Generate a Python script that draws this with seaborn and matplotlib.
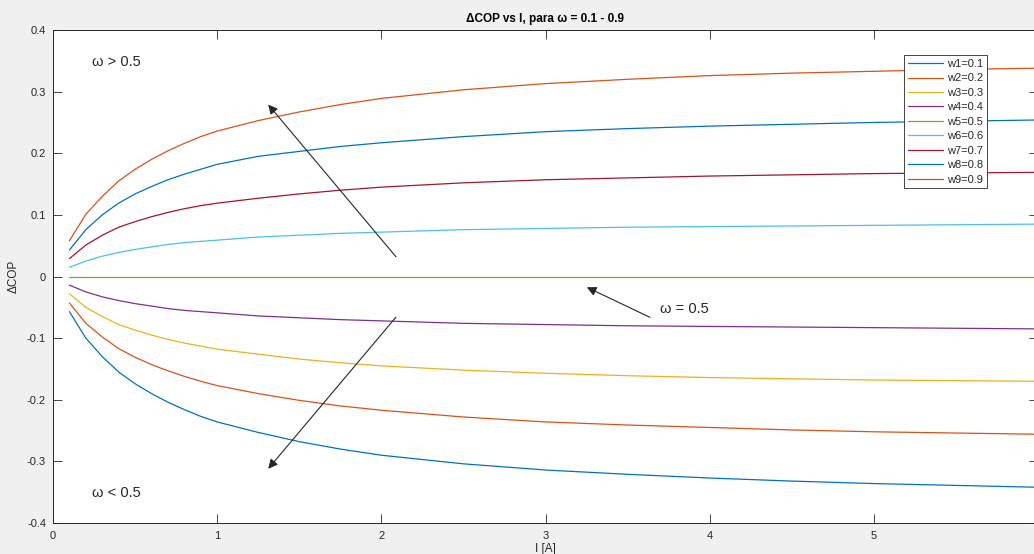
import numpy as np
import pandas as pd
import matplotlib
matplotlib.use("Agg")
import matplotlib.pyplot as plt
import seaborn as sns

# Data
corriente = [0.1, 0.2, 0.3, 0.4, 0.5, 0.6, 0.7, 0.8, 0.9, 1.0, 1.25, 1.5, 1.75,
             2.0, 2.5, 3.0, 3.5, 4.0, 4.5, 5.0, 5.5, 6.0]

w1 = [-0.057, -0.100, -0.130, -0.155, -0.174, -0.190, -0.204, -0.216, -0.227, -0.236, -0.253,
      -0.268, -0.280, -0.290, -0.304, -0.314, -0.321, -0.327, -0.332, -0.336, -0.339, -0.342]
w2 = [-0.043, -0.076, -0.098, -0.117, -0.131, -0.143, -0.153, -0.162, -0.170, -0.177, -0.190,
      -0.201, -0.210, -0.217, -0.228, -0.236, -0.241, -0.245, -0.249, -0.252, -0.254, -0.256]
w3 = [-0.028, -0.050, -0.065, -0.078, -0.087, -0.095, -0.102, -0.108, -0.113, -0.118, -0.126,
      -0.134, -0.140, -0.145, -0.152, -0.157, -0.161, -0.164, -0.166, -0.168, -0.169, -0.170]
w4 = [-0.014, -0.025, -0.033, -0.039, -0.044, -0.048, -0.052, -0.055, -0.057, -0.059, -0.064,
      -0.067, -0.070, -0.072, -0.076, -0.078, -0.080, -0.081, -0.082, -0.083, -0.084, -0.085]
w5 = [0.0] * 22
w6 = [0.015, 0.025, 0.033, 0.039, 0.044, 0.048, 0.052, 0.055, 0.057, 0.059, 0.064,
      0.067, 0.070, 0.072, 0.076, 0.078, 0.080, 0.081, 0.082, 0.083, 0.084, 0.085]
w7 = [0.029, 0.051, 0.067, 0.080, 0.089, 0.097, 0.104, 0.110, 0.115, 0.119, 0.127,
      0.134, 0.140, 0.145, 0.152, 0.157, 0.160, 0.163, 0.165, 0.167, 0.168, 0.169]
w8 = [0.043, 0.076, 0.100, 0.119, 0.134, 0.146, 0.157, 0.166, 0.174, 0.182, 0.195,
      0.203, 0.211, 0.217, 0.227, 0.235, 0.240, 0.244, 0.247, 0.250, 0.252, 0.254]
w9 = [0.058, 0.101, 0.130, 0.155, 0.174, 0.190, 0.204, 0.216, 0.227, 0.236, 0.253,
      0.267, 0.279, 0.289, 0.303, 0.313, 0.320, 0.326, 0.330, 0.333, 0.336, 0.338]

series = [w1, w2, w3, w4, w5, w6, w7, w8, w9]
labels = ["w1=0.1", "w2=0.2", "w3=0.3", "w4=0.4", "w5=0.5",
          "w6=0.6", "w7=0.7", "w8=0.8", "w9=0.9"]

# MATLAB default color order (cycles after 7)
colores = ["#0072BD", "#D95319", "#EDB120", "#7E2F8E", "#77AC30",
           "#4DBEEE", "#A2142F", "#0072BD", "#D95319"]

sns.set_style("ticks")
plt.rcParams["font.family"] = ["Liberation Sans", "DejaVu Sans"]
plt.rcParams["axes.edgecolor"] = "#262626"
plt.rcParams["xtick.color"] = "#262626"
plt.rcParams["ytick.color"] = "#262626"

fig = plt.figure(figsize=(10.34, 5.54), dpi=100, facecolor="#f0f0f0")
ax = fig.add_axes([53 / 1034, 31 / 554, 985 / 1034, 493 / 554])
ax.set_facecolor("white")

for vals, lab, col in zip(series, labels, colores):
    sns.lineplot(x=corriente, y=vals, color=col, label=lab, linewidth=0.9, ax=ax)

ax.set_xlim(0, 6)
ax.set_ylim(-0.4, 0.4)
ax.set_xticks(range(0, 6))
ax.set_yticks(np.arange(-0.4, 0.41, 0.1))
ax.set_yticklabels(["-0.4", "-0.3", "-0.2", "-0.1", "0", "0.1", "0.2", "0.3", "0.4"])
ax.tick_params(direction="in", length=6.5, width=0.6, labelsize=8,
               top=True, right=True, labelcolor="#262626")
ax.tick_params(axis="x", pad=6)
ax.tick_params(axis="y", pad=5)
for sp in ax.spines.values():
    sp.set_linewidth(0.7)

ax.set_title("\u0394COP vs I, para \u03c9 = 0.1 - 0.9", fontsize=8.5,
             fontweight="bold", color="black", pad=6)
ax.set_xlabel("I [A]", fontsize=8.5, color="#262626", labelpad=1.5)
ax.set_ylabel("\u0394COP", fontsize=8.5, color="#262626", labelpad=5)

# annotations
ax.text(0.24, 0.348, "\u03c9 > 0.5", fontsize=10.5, va="center", ha="left")
ax.text(0.24, -0.351, "\u03c9 < 0.5", fontsize=10.5, va="center", ha="left")
ax.text(3.70, -0.053, "\u03c9 = 0.5", fontsize=10.5, va="center", ha="left")

flecha = dict(arrowstyle="-|>", color="#262626", lw=0.8, mutation_scale=14,
              shrinkA=0, shrinkB=0)
ax.annotate("", xy=(1.311, 0.279), xytext=(2.089, 0.032), arrowprops=flecha)
ax.annotate("", xy=(1.311, -0.312), xytext=(2.089, -0.066), arrowprops=flecha)
ax.annotate("", xy=(3.252, -0.0175), xytext=(3.636, -0.0662), arrowprops=flecha)

leg = ax.legend(loc="upper right", bbox_to_anchor=(0.948, 0.949), borderaxespad=0,
                fontsize=8, frameon=True, fancybox=False, handlelength=3.2,
                handletextpad=0.3, labelspacing=0.40, borderpad=0.35)
leg.get_frame().set_edgecolor("#262626")
leg.get_frame().set_linewidth(0.6)
leg.get_frame().set_alpha(1)

fig.savefig("out.png", dpi=100, facecolor=fig.get_facecolor())
